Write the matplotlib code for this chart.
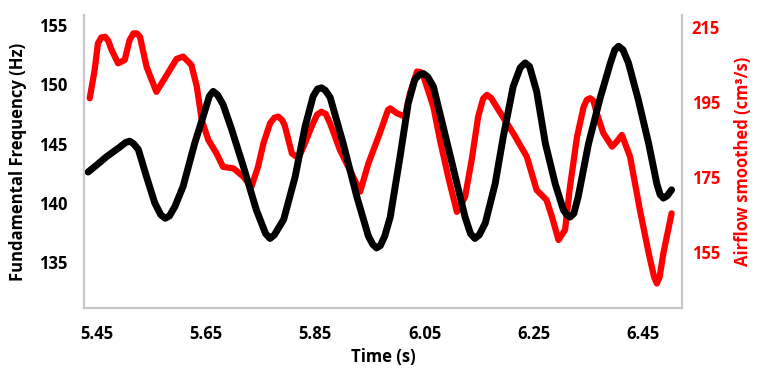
import matplotlib
matplotlib.use("Agg")
import matplotlib.pyplot as plt

# fundamental frequency (left axis, Hz)
t_f0 = [5.434, 5.450, 5.468, 5.492, 5.503, 5.510, 5.517, 5.526, 5.541, 5.556,
        5.567, 5.575, 5.583, 5.593, 5.608, 5.629, 5.648, 5.656, 5.663, 5.671,
        5.681, 5.696, 5.718, 5.742, 5.759, 5.767, 5.775, 5.792, 5.813, 5.831,
        5.846, 5.854, 5.861, 5.868, 5.877, 5.901, 5.926, 5.947, 5.955, 5.962,
        5.969, 5.977, 5.987, 6.005, 6.020, 6.032, 6.040, 6.048, 6.056, 6.066,
        6.084, 6.103, 6.124, 6.134, 6.142, 6.150, 6.161, 6.179, 6.194, 6.212,
        6.225, 6.234, 6.242, 6.255, 6.271, 6.289, 6.304, 6.310, 6.316, 6.323,
        6.331, 6.350, 6.371, 6.390, 6.398, 6.405, 6.413, 6.423, 6.441, 6.460,
        6.475, 6.481, 6.487, 6.494, 6.502]
f0 = [142.6, 143.2, 143.9, 144.7, 145.1, 145.2, 145.0, 144.5, 142.2, 140.0,
      139.0, 138.7, 138.9, 139.7, 141.4, 145.0, 147.8, 149.0, 149.4, 149.1,
      148.3, 146.3, 143.1, 139.4, 137.4, 137.0, 137.3, 138.6, 142.2, 146.4,
      149.0, 149.6, 149.7, 149.5, 148.9, 145.0, 140.5, 137.2, 136.5, 136.2,
      136.4, 137.2, 138.8, 143.9, 148.4, 150.4, 150.8, 150.9, 150.6, 149.8,
      146.4, 142.8, 138.8, 137.4, 137.0, 137.3, 138.3, 141.6, 145.6, 149.8,
      151.4, 151.8, 151.5, 149.4, 145.0, 141.6, 139.4, 139.0, 138.8, 139.1,
      140.5, 145.0, 148.8, 151.8, 152.9, 153.2, 152.9, 151.8, 148.7, 145.0,
      141.6, 140.7, 140.4, 140.6, 141.1]

# airflow smoothed (right axis, cm3/s)
t_air = [5.437, 5.446, 5.452, 5.458, 5.465, 5.471, 5.477, 5.489, 5.501, 5.510,
         5.517, 5.523, 5.529, 5.541, 5.559, 5.578, 5.596, 5.608, 5.623, 5.633,
         5.642, 5.654, 5.669, 5.681, 5.700, 5.718, 5.733, 5.745, 5.755, 5.767,
         5.775, 5.782, 5.789, 5.794, 5.807, 5.819, 5.831, 5.843, 5.853, 5.861,
         5.869, 5.877, 5.895, 5.916, 5.932, 5.947, 5.968, 5.983, 5.987, 5.999,
         6.014, 6.023, 6.036, 6.042, 6.048, 6.066, 6.078, 6.093, 6.109, 6.124,
         6.136, 6.148, 6.157, 6.164, 6.172, 6.185, 6.212, 6.237, 6.255, 6.273,
         6.283, 6.295, 6.307, 6.316, 6.329, 6.341, 6.347, 6.353, 6.359, 6.365,
         6.377, 6.393, 6.402, 6.411, 6.426, 6.444, 6.460, 6.470, 6.475, 6.480,
         6.487, 6.502]
airflow = [196.0, 203.5, 210.6, 212.2, 212.4, 211.3, 208.9, 205.3, 206.2, 211.5,
           213.3, 213.3, 212.4, 204.4, 197.7, 202.2, 206.5, 207.1, 204.9, 199.1,
           190.2, 184.9, 181.3, 177.7, 177.3, 175.1, 172.4, 177.7, 184.0, 189.3,
           190.8, 191.1, 190.2, 188.7, 181.3, 180.0, 184.0, 188.4, 191.6, 192.4,
           191.8, 189.3, 182.2, 176.0, 171.1, 178.6, 186.7, 192.9, 193.3, 192.0,
           191.1, 197.3, 203.1, 203.0, 201.8, 193.7, 184.9, 175.1, 165.7, 169.7,
           179.5, 191.1, 195.9, 196.9, 196.0, 192.9, 186.7, 180.4, 171.5, 168.9,
           164.4, 158.2, 160.9, 172.4, 185.8, 193.7, 195.6, 196.0, 195.3, 192.0,
           186.7, 183.1, 184.5, 186.2, 180.4, 166.2, 154.7, 148.3, 146.6, 148.3,
           154.7, 165.3]

x_ticks = [5.45, 5.65, 5.85, 6.05, 6.25, 6.45]
f0_ticks = [135, 140, 145, 150, 155]
air_ticks = [155, 175, 195, 215]

plt.rcParams['font.family'] = ['Open Sans', 'DejaVu Sans']

fig = plt.figure(figsize=(7.68, 3.84), dpi=100)
ax = fig.add_axes([0.109, 0.198, 0.779, 0.763])
ax2 = ax.twinx()

ax.plot(t_f0, f0, color='black', lw=5, solid_capstyle='round',
        solid_joinstyle='round')
ax2.plot(t_air, airflow, color='#ff0000', lw=4.5, solid_capstyle='round',
         solid_joinstyle='round')

# black line drawn over the red one
ax.set_zorder(ax2.get_zorder() + 1)
ax.patch.set_visible(False)

ax.set_xlim(5.426, 6.521)
ax.set_ylim(131.14, 155.84)
ax2.set_ylim(140.07, 218.2)

ax.set_xticks(x_ticks)
ax.set_xticklabels([f"{v:.2f}" for v in x_ticks])
ax.set_yticks(f0_ticks)
ax2.set_yticks(air_ticks)

ax.tick_params(axis='both', length=0, labelsize=12, pad=12)
ax2.tick_params(axis='y', length=0, labelsize=12, pad=7, labelcolor='#ff0000')
for lab in ax.get_xticklabels() + ax.get_yticklabels() + ax2.get_yticklabels():
    lab.set_fontweight('bold')

for a in (ax, ax2):
    a.spines['top'].set_visible(False)
    for s in ('left', 'right', 'bottom'):
        a.spines[s].set_color('#c8c8c8')
        a.spines[s].set_linewidth(1.5)

ax.set_xlabel("Time (s)", fontsize=12, fontweight='bold', labelpad=4)
ax.set_ylabel("Fundamental Frequency (Hz)", fontsize=12, fontweight='bold', labelpad=8)
ax2.set_ylabel("Airflow smoothed (cm³/s)", fontsize=12, fontweight='bold',
               color='#ff0000', labelpad=10)

fig.savefig("out.png", dpi=100, facecolor='white')
